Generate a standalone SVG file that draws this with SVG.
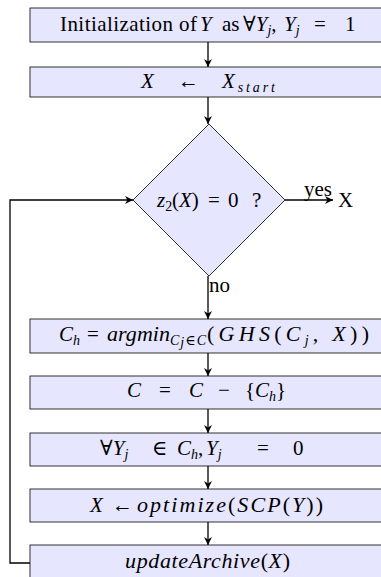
<svg xmlns="http://www.w3.org/2000/svg" width="381" height="577" viewBox="0 0 381 577">
<style>
.box{fill:#E6E6FF;stroke:#000;stroke-width:0.8}
.t{font-family:"Liberation Serif","DejaVu Serif",serif;font-size:21px;fill:#000}
.w{font-size:22px}
.m{text-anchor:middle}
.i{font-style:italic}
.s{font-size:14px;font-style:italic}
.c{fill:none;stroke:#000;stroke-width:1.3}
</style>
<defs>
<marker id="ah" viewBox="0 0 10 10" refX="10" refY="5" markerWidth="8" markerHeight="8" markerUnits="userSpaceOnUse" orient="auto">
<path d="M0,0 L10,5 L0,10 L3,5 Z" fill="#000"/>
</marker>
</defs>
<g id="connectors">
<line class="c" x1="208" y1="42" x2="208" y2="67" marker-end="url(#ah)"/>
<line class="c" x1="208" y1="97" x2="208" y2="124" marker-end="url(#ah)"/>
<line class="c" x1="285" y1="200" x2="333" y2="200" marker-end="url(#ah)"/>
<line class="c" x1="208" y1="276" x2="208" y2="319" marker-end="url(#ah)"/>
<line class="c" x1="208" y1="353" x2="208" y2="376" marker-end="url(#ah)"/>
<line class="c" x1="208" y1="409" x2="208" y2="433" marker-end="url(#ah)"/>
<line class="c" x1="208" y1="466" x2="208" y2="489" marker-end="url(#ah)"/>
<line class="c" x1="208" y1="522" x2="208" y2="545" marker-end="url(#ah)"/>
<polyline class="c" points="30,563 10,563 10,200 133,200" marker-end="url(#ah)"/>
<text class="t" x="304" y="196">yes</text>
<text class="t" x="209" y="292">no</text>
</g>
<g id="init">
<rect class="box" x="30" y="8" width="356" height="34"/>
<text class="t" x="60" y="31" textLength="137" lengthAdjust="spacing">Initialization of</text>
<text class="t" y="31"><tspan class="i" x="200">Y</tspan><tspan x="222">as</tspan><tspan x="243">∀</tspan><tspan class="i">Y</tspan><tspan class="s" dy="4">j</tspan><tspan dy="-4">,</tspan><tspan class="i" x="284">Y</tspan><tspan class="s" dy="4">j</tspan><tspan x="314" dy="-4">=</tspan><tspan x="345">1</tspan></text>
</g>
<g id="start">
<rect class="box" x="30" y="67" width="356" height="30"/>
<text class="t" y="88"><tspan class="i" x="141">X</tspan><tspan x="178">←</tspan></text>
<text class="t" x="222" y="88" textLength="53" lengthAdjust="spacing"><tspan class="i">X</tspan><tspan class="s" font-size="15" dy="4">start</tspan></text>
</g>
<g id="decision">
<polygon points="209,124 285,200 209,276 133,200" fill="#E6E6FF" stroke="#000" stroke-width="0.8"/>
<text class="t" y="207" fill="#333"><tspan class="i" x="157">z</tspan><tspan font-size="14" dy="4">2</tspan><tspan x="172" dy="-4">(</tspan><tspan class="i">X</tspan><tspan>)</tspan><tspan x="208">=</tspan><tspan x="228">0</tspan><tspan x="252">?</tspan></text>
</g>
<g id="out">
<text class="t" x="338" y="207">X</text>
</g>
<g id="argmin">
<rect class="box" x="30" y="319" width="356" height="34"/>
<text class="t" y="341"><tspan class="i" x="59">C</tspan><tspan class="s" dy="4">h</tspan><tspan x="87" dy="-4">=</tspan></text>
<text class="t w i" x="107" y="341" textLength="63" lengthAdjust="spacing">argmin</text>
<text class="t" x="170" y="345" textLength="36" lengthAdjust="spacing"><tspan class="s">C</tspan><tspan class="s" font-size="10" dy="2">j</tspan><tspan font-size="14" dy="-2">∈</tspan><tspan class="s">C</tspan></text>
<text class="t w" x="207" y="341" textLength="162" lengthAdjust="spacing">(<tspan class="i">GHS</tspan>(<tspan class="i">C</tspan><tspan class="s" dy="4">j</tspan><tspan dy="-4">, </tspan><tspan class="i">X</tspan>))</text>
</g>
<g id="remove">
<rect class="box" x="30" y="376" width="356" height="33"/>
<text class="t" y="397"><tspan class="i" x="127">C</tspan><tspan x="159">=</tspan><tspan class="i" x="189">C</tspan><tspan x="218">−</tspan><tspan x="245">{</tspan><tspan class="i">C</tspan><tspan class="s" dy="4">h</tspan><tspan dy="-4">}</tspan></text>
</g>
<g id="zero">
<rect class="box" x="30" y="433" width="356" height="33"/>
<text class="t" y="455"><tspan x="100">∀</tspan><tspan class="i">Y</tspan><tspan class="s" dy="4">j</tspan><tspan x="152" dy="-4">∈</tspan><tspan class="i" x="177">C</tspan><tspan class="s" dy="4">h</tspan><tspan dy="-4">,</tspan><tspan class="i" x="206">Y</tspan><tspan class="s" dy="4">j</tspan><tspan x="257" dy="-4">=</tspan><tspan x="293">0</tspan></text>
</g>
<g id="optimize">
<rect class="box" x="30" y="489" width="356" height="33"/>
<text class="t" y="512"><tspan class="i" x="90">X</tspan><tspan x="112">←</tspan></text>
<text class="t w" x="137" y="512" textLength="186" lengthAdjust="spacing"><tspan class="i">optimize</tspan>(<tspan class="i">SCP</tspan>(<tspan class="i">Y</tspan>))</text>
</g>
<g id="archive">
<rect class="box" x="30" y="545" width="356" height="34"/>
<text class="t w" x="125" y="568" textLength="165" lengthAdjust="spacing"><tspan class="i">updateArchive</tspan>(<tspan class="i">X</tspan>)</text>
</g>
</svg>
